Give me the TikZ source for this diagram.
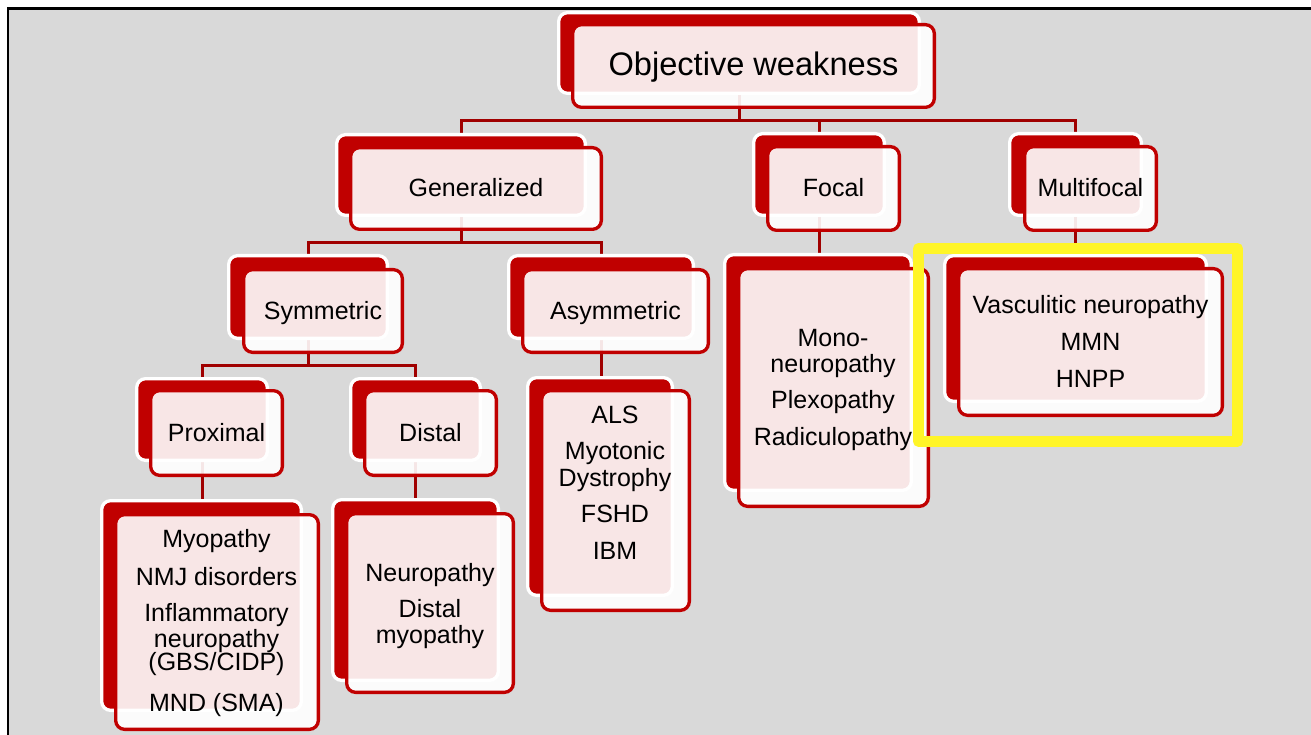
\documentclass[tikz,border=0pt]{standalone}
\usepackage{fontspec}
\setmainfont{Liberation Sans}
\usetikzlibrary{calc}

\definecolor{boxred}{RGB}{192,0,0}
\definecolor{linkred}{RGB}{160,0,0}
\definecolor{slidegray}{RGB}{217,217,217}
\definecolor{markyellow}{RGB}{255,245,40}

\pgfdeclarelayer{bg}
\pgfdeclarelayer{links}
\pgfsetlayers{bg,links,main}

\tikzset{
  sz/.style 2 args={minimum width=#1pt, minimum height=#2pt},
  backbox/.style={draw=white, fill=boxred, line width=3.3pt, rounded corners=9pt,
    inner sep=0pt, outer sep=0pt},
  frontbox/.style={draw=boxred, fill=white, fill opacity=0.9, text opacity=1,
    line width=3.3pt, rounded corners=9pt, inner sep=0pt, outer sep=0pt,
    text height=16pt, text depth=0pt, font=\fontsize{25}{24}\selectfont},
  leaftext/.style={anchor=north, align=center, inner sep=0pt,
    font=\fontsize{25}{24}\selectfont},
  link/.style={draw=linkred, line width=3pt},
  markbox/.style={draw=markyellow, line width=10.7pt, line join=round},
  frame/.style={draw=black, line width=2.7pt},
}

\begin{document}
\begin{tikzpicture}[x=1pt, y=-1pt]
\useasboundingbox (0,0) rectangle (1311,735);

% slide background and frame
\begin{pgfonlayer}{bg}
  \fill[white] (0,0) rectangle (1311,735);
  \fill[slidegray] (8,8.7) rectangle (1311,735);
  \draw[frame] (8,735) -- (8,8.7) -- (1311,8.7);
\end{pgfonlayer}

% root
\node[backbox, sz={360.7}{80.7}] (topB) at (739,53) {};
\node[frontbox, sz={361.7}{82.7}, text height=20pt, font=\fontsize{32.6}{34}\selectfont]
  (top) at (753.5,66) {Objective weakness};

% first level
\node[backbox, sz={248.7}{80.7}] (genB) at (461,175) {};
\node[frontbox, sz={250.7}{81.7}] (gen) at (476,188.5) {Generalized};
\node[backbox, sz={130.7}{81.7}] (focB) at (819,174.5) {};
\node[frontbox, sz={131.7}{83.7}] (foc) at (833.5,188.5) {Focal};
\node[backbox, sz={131.7}{81.7}] (mulB) at (1075.5,174.5) {};
\node[frontbox, sz={131.7}{83.7}] (mul) at (1090.5,188.5) {Multifocal};

% second level
\node[backbox, sz={158.7}{82.7}] (symB) at (308,297) {};
\node[frontbox, sz={158.7}{82.7}] (sym) at (323,311) {Symmetric};
\node[backbox, sz={184.7}{82.7}] (asyB) at (601,297) {};
\node[frontbox, sz={185.7}{82.7}] (asy) at (615.5,311) {Asymmetric};

% third level
\node[backbox, sz={130.7}{81.7}] (prxB) at (202,419.5) {};
\node[frontbox, sz={131.7}{84.7}] (prx) at (216.5,433) {Proximal};
\node[backbox, sz={129.7}{81.7}] (dstB) at (415.5,419.5) {};
\node[frontbox, sz={131.7}{84.7}] (dst) at (430.5,433) {Distal};

% leaf boxes
\node[backbox, sz={199.7}{209.7}] (plB) at (201.5,605.5) {};
\node[frontbox, sz={202.7}{214.7}] (pl) at (217,622) {};
\node[leaftext] (plT) at (216.5,527) {\rule{0pt}{20pt}Myopathy\\[14pt]NMJ disorders\\[12pt]Inflammatory\\[2pt]neuropathy\\[-1pt](GBS/CIDP)\\[17pt]MND (SMA)};

\node[backbox, sz={165.7}{180.7}] (dlB) at (415.5,590) {};
\node[frontbox, sz={166.7}{178.7}] (dl) at (430,603) {};
\node[leaftext] (dlT) at (430,561) {\rule{0pt}{20pt}Neuropathy\\[12pt]Distal\\[2.5pt]myopathy};

\node[backbox, sz={144.7}{217.7}] (alB) at (600,486.5) {};
\node[frontbox, sz={147.7}{219.7}] (al) at (615.5,500.5) {};
\node[leaftext] (alT) at (615,403) {\rule{0pt}{20pt}ALS\\[12.3pt]Myotonic\\[2.7pt]Dystrophy\\[12.6pt]FSHD\\[12.7pt]IBM};

\node[backbox, sz={186.7}{235.7}] (flB) at (818,372.5) {};
\node[frontbox, sz={189.7}{237.7}] (fl) at (833.5,387.5) {};
\node[leaftext] (flT) at (833,326) {\rule{0pt}{20pt}Mono-\\[2.5pt]neuropathy\\[12pt]Plexopathy\\[13pt]Radiculopathy};

\node[backbox, sz={261.7}{145.7}] (mlB) at (1075.5,328.5) {};
\node[frontbox, sz={263.7}{146.7}] (ml) at (1090.5,342) {};
\node[leaftext] (mlT) at (1090.5,293) {\rule{0pt}{20pt}Vasculitic neuropathy\\[13pt]MMN\\[13pt]HNPP};

% connectors, kept beneath the boxes
\coordinate (bus0) at (739,121);
\coordinate (bus1) at (461,243);
\coordinate (bus2) at (308,365);
\begin{pgfonlayer}{links}
  \draw[link] (topB.center) |- (bus0 -| genB.center) -- (genB.center);
  \draw[link] (topB.center) |- (bus0 -| focB.center) -- (focB.center);
  \draw[link] (topB.center) |- (bus0 -| mulB.center) -- (mulB.center);
  \draw[link] (genB.center) |- (bus1 -| symB.center) -- (symB.center);
  \draw[link] (genB.center) |- (bus1 -| asyB.center) -- (asyB.center);
  \draw[link] (symB.center) |- (bus2 -| prxB.center) -- (prxB.center);
  \draw[link] (symB.center) |- (bus2 -| dstB.center) -- (dstB.center);
  \draw[link] (prxB.center) -- (prxB.center |- plB.center);
  \draw[link] (dstB.center) -- (dstB.center |- dlB.center);
  \draw[link] (asyB.center) -- (asyB.center |- alB.center);
  \draw[link] (focB.center) -- (focB.center |- flB.center);
  \draw[link] (mulB.center) -- (mulB.center |- mlB.center);
\end{pgfonlayer}

% highlight around the multifocal group
\draw[markbox] (918.5,248.5) rectangle (1237.5,441.5);
\end{tikzpicture}
\end{document}
